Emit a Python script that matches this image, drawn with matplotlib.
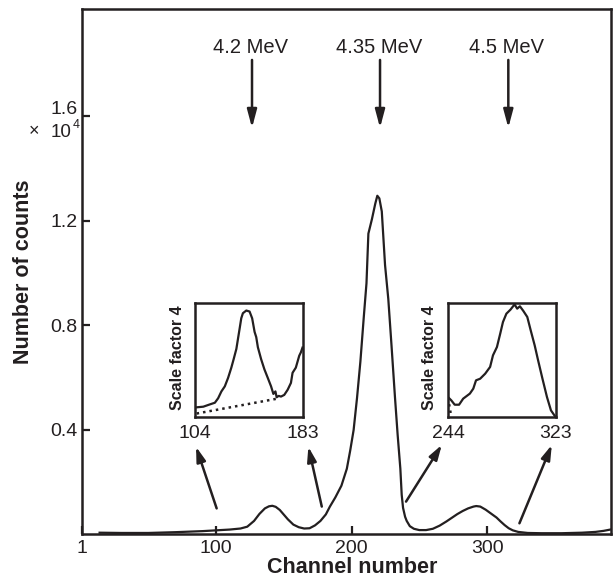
import matplotlib
matplotlib.use("Agg")
import matplotlib.pyplot as plt
from matplotlib.transforms import ScaledTranslation

plt.rcParams['font.family'] = ['Liberation Sans', 'DejaVu Sans']

INK = '#231f20'

# ---------------- data (counts in units of 10^4) ----------------
channels = [14, 30, 50, 70, 90, 100, 110, 118, 123, 128, 132, 136, 139, 141.5, 144, 147,
            150, 153, 157, 161, 165, 169, 173, 177, 181, 184, 188, 192.5, 196.5, 199,
            201.5, 204, 206.5, 209, 211, 212.4, 215, 217.5, 219, 220.5, 222.3, 224.7,
            227.1, 229.5, 232, 234, 236, 237, 238, 239.5, 240.7, 243, 246, 250, 255,
            260, 265, 270, 274, 278, 282, 286, 290, 292, 295, 299, 303, 307, 310, 313,
            316, 319, 323, 330, 340, 355, 370, 380, 386, 392]
counts = [0.005, 0.004, 0.004, 0.007, 0.011, 0.014, 0.017, 0.021, 0.028, 0.05, 0.077,
          0.098, 0.106, 0.108, 0.104, 0.092, 0.074, 0.056, 0.036, 0.026, 0.021, 0.022,
          0.033, 0.05, 0.075, 0.105, 0.14, 0.185, 0.25, 0.32, 0.398, 0.52, 0.66, 0.83,
          0.96, 1.15, 1.205, 1.265, 1.295, 1.285, 1.235, 1.03, 0.9, 0.72, 0.526, 0.38,
          0.25, 0.15, 0.1, 0.066, 0.05, 0.03, 0.02, 0.015, 0.015, 0.02, 0.032, 0.048,
          0.062, 0.076, 0.088, 0.098, 0.105, 0.107, 0.105, 0.093, 0.078, 0.063, 0.048,
          0.034, 0.022, 0.014, 0.008, 0.004, 0.003, 0.003, 0.005, 0.008, 0.012, 0.018]

# inset 1 (channels 104-183)
inset1_ch = [104.7, 110.1, 114.9, 118.6, 121.0, 123.4, 125.9, 128.3, 130.7, 132.4, 134.4,
             135.6, 136.8, 138.0, 139.2, 141.7, 144.1, 146.0, 147.8, 149.0, 150.2, 152.6,
             155.0, 157.5, 159.9, 161.6, 163.1, 164.0, 165.5, 167.2, 169.6, 172.1, 174.5,
             175.7, 178.1, 180.6, 181.8, 183.0]
inset1_counts = [0.0097, 0.0104, 0.0127, 0.0144, 0.0189, 0.0258, 0.0309, 0.0394, 0.0498,
                 0.0583, 0.0687, 0.079, 0.0892, 0.0996, 0.1047, 0.1074, 0.1064, 0.0996,
                 0.0858, 0.0806, 0.0704, 0.0583, 0.0481, 0.0394, 0.0309, 0.0233, 0.0258,
                 0.0199, 0.0213, 0.0206, 0.0223, 0.0275, 0.0344, 0.0446, 0.0498, 0.0618,
                 0.0652, 0.0700]
inset1_base_ch = [105.2, 166.0]
inset1_base_counts = [0.0035, 0.0189]

# inset 2 (channels 244-323)
inset2_ch = [244.0, 246.4, 248.9, 252.1, 255.1, 260.0, 262.5, 264.5, 267.5, 271.2, 274.8,
             276.9, 279.8, 282.2, 284.2, 286.7, 289.7, 292.7, 294.6, 296.6, 299.1, 302.0,
             304.5, 307.4, 309.9, 313.1, 316.4, 319.3, 322.3]
inset2_counts = [0.0201, 0.0168, 0.0124, 0.0124, 0.0185, 0.0236, 0.0286, 0.037, 0.0386,
                 0.0437, 0.0505, 0.0622, 0.0706, 0.0841, 0.0958, 0.1042, 0.1083, 0.1136,
                 0.1093, 0.1117, 0.107, 0.1009, 0.0874, 0.0723, 0.0572, 0.0386, 0.0201,
                 0.0067, 0.0007]
inset2_base_ch = [244.8, 246.3]
inset2_base_counts = [0.013, 0.001]

x_ticks = [1, 100, 200, 300]
y_ticks = [0.4, 0.8, 1.2, 1.6]
y_tick_labels = ['0.4', '0.8', '1.2', '1.6']

energy_labels = ['4.2 MeV', '4.35 MeV', '4.5 MeV']
energy_channels = [126.5, 221, 315.7]

inset_ranges = [(104, 183), (244, 323)]

# ---------------- figure ----------------
W, H = 613, 577
fig = plt.figure(figsize=(W / 100, H / 100), dpi=100)


def fx(px):
    return px / W


def fy(py):
    return 1 - py / H


ax = fig.add_axes([fx(82), fy(534), fx(611) - fx(82), fy(9) - fy(534)])
ax.plot(channels, counts, color=INK, lw=1.6, solid_joinstyle='round')
ax.set_xlim(1, 391.5)
ax.set_ylim(0, 2.01)
ax.set_xticks(x_ticks)
ax.set_xticklabels([str(v) for v in x_ticks])
ax.set_yticks(y_ticks)
ax.set_yticklabels(y_tick_labels)
ax.tick_params(direction='in', length=6, width=1.6, labelsize=14, colors=INK)
ax.tick_params(axis='x', pad=4.0)
ax.tick_params(axis='y', pad=3.5)
for s in ax.spines.values():
    s.set_linewidth(1.8)
    s.set_color(INK)

# top y tick label sits a little above its tick to leave room for the multiplier
top_lab = ax.get_yticklabels()[-1]
top_lab.set_transform(top_lab.get_transform() +
                      ScaledTranslation(0, 9 / 100, fig.dpi_scale_trans))

ax.set_xlabel('Channel number', fontsize=15.5, fontweight='bold', color=INK)
ax.xaxis.set_label_coords((352 - 82) / 529, -0.043)
ax.set_ylabel('Number of counts', fontsize=15.5, fontweight='bold', color=INK)
ax.yaxis.set_label_coords(-0.09, 0.5)

# "x 10^4" multiplier
fig.text(fx(39), fy(132), '\u00d7', fontsize=13, ha='right', va='center', color=INK)
fig.text(fx(72), fy(132), '10', fontsize=13.5, ha='right', va='center', color=INK)
fig.text(fx(72.5), fy(125), '4', fontsize=9, ha='left', va='center', color=INK)

# energy markers
big_head = dict(arrowstyle='-|>,head_length=0.6,head_width=0.16', color=INK, lw=1.8,
                mutation_scale=18, shrinkA=0, shrinkB=0)
for lab, ch in zip(energy_labels, energy_channels):
    ax.annotate('', xy=(ch, 1.555), xytext=(ch, 1.815), arrowprops=big_head)
    ax.text(ch - 1, 1.862, lab, fontsize=14.5, ha='center', va='center', color=INK)

# arrows from spectrum to insets
small_head = dict(arrowstyle='-|>,head_length=0.55,head_width=0.17', color=INK, lw=1.8,
                  mutation_scale=16, shrinkA=0, shrinkB=0)
arrow_starts = [(100.4, 0.098), (178.0, 0.105), (240.2, 0.124), (323.9, 0.041)]
arrow_tips = [(85.2, 0.334), (168.1, 0.334), (266.6, 0.341), (347.8, 0.341)]
for st, tp in zip(arrow_starts, arrow_tips):
    ax.annotate('', xy=tp, xytext=st, arrowprops=small_head)

# insets
inset_boxes = [(195, 303, 302.5, 417), (448, 303, 556, 417)]
inset_data = [(inset1_ch, inset1_counts, inset1_base_ch, inset1_base_counts),
              (inset2_ch, inset2_counts, inset2_base_ch, inset2_base_counts)]
label_x = [177, 430]
for (l, t, r, b), (cx, cy, bx, by), rng, lx in zip(inset_boxes, inset_data,
                                                  inset_ranges, label_x):
    ia = fig.add_axes([fx(l), fy(b), fx(r) - fx(l), fy(t) - fy(b)])
    ia.plot(cx, cy, color=INK, lw=1.6)
    ia.plot(bx, by, color=INK, lw=1.8, linestyle=(0, (1, 1.6)))
    ia.set_xlim(rng[0], rng[1])
    ia.set_ylim(0, 0.115)
    ia.set_xticks(list(rng))
    ia.set_xticklabels([str(v) for v in rng])
    ia.set_yticks([])
    ia.tick_params(axis='x', length=0, labelsize=14, pad=5.5, colors=INK)
    for s in ia.spines.values():
        s.set_linewidth(1.8)
        s.set_color(INK)
    fig.text(fx(lx), fy(358), 'Scale factor 4', rotation=90, fontsize=11.5,
             fontweight='bold', ha='center', va='center', color=INK)

fig.savefig('out.png', dpi=100)
